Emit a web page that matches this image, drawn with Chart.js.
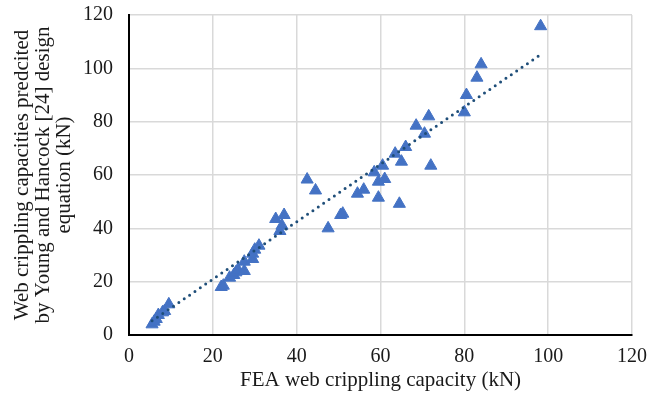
<!DOCTYPE html>
<html>
<head>
<meta charset="utf-8">
<script src="https://cdn.jsdelivr.net/npm/chart.js@4/dist/chart.umd.min.js"></script>
<style>
  html, body { margin: 0; padding: 0; background: #fff; }
</style>
</head>
<body>
<canvas id="chart" width="667" height="399"></canvas>
<script>
// FEA capacity (x) vs. predicted capacity (y), kN
var feaValues = [5.5, 6, 6.5, 7, 8, 8.5, 9.5, 22, 22.5, 24, 25, 25.5, 26, 27.5, 27.5, 29.5, 29.5, 30, 31,
    35, 36, 36.5, 37, 42.5, 44.5, 47.5, 50.5, 51, 54.5, 56, 58.5, 59.5, 59.5, 60.5, 61, 63.5, 64.5, 65, 66,
    68.5, 70.5, 71.5, 72, 80, 80.5, 83, 84, 98.2];
var predictedValues = [4, 5, 6, 7.5, 8.5, 9, 11.5, 18, 18.5, 21.5, 22.5, 23.5, 24.5, 24, 27.5, 28.5, 30.5, 32, 33.5,
    43.5, 39, 41, 45, 58.3, 54.2, 40, 45, 45.5, 53, 54.5, 61, 51.5, 57.5, 63.5, 58.5, 68, 49.2, 65, 70.5,
    78.5, 75.5, 82, 63.5, 83.5, 90, 96.5, 101.5, 115.8];

// linear trendline end points
var trendX = [5.5, 98.8];
var trendY = [5.3, 105.8];

var serif = "'Liberation Serif', 'Times New Roman', serif";
var tickFont = { family: serif, size: 20 };
var titleFont = { family: serif, size: 21, lineHeight: 1.0 };

var points = feaValues.map(function (v, i) { return { x: v, y: predictedValues[i] }; });
var trend = trendX.map(function (v, i) { return { x: v, y: trendY[i] }; });

var ctx = document.getElementById('chart').getContext('2d');
var chart = new Chart(ctx, {
    type: 'scatter',
    data: {
        datasets: [{
            type: 'line',
            data: trend,
            order: 0,
            borderColor: '#1f4e79',
            borderWidth: 3,
            borderDash: [0, 6.5],
            borderCapStyle: 'round',
            pointRadius: 0,
            fill: false
        }, {
            data: points,
            order: 1,
            pointStyle: 'triangle',
            pointRadius: 7,
            pointHoverRadius: 7,
            backgroundColor: '#4472c4',
            borderColor: '#4472c4',
            borderWidth: 1
        }]
    },
    options: {
        responsive: false,
        animation: false,
        layout: { padding: { top: 15, right: 35, left: 0, bottom: 0 } },
        plugins: { legend: { display: false }, tooltip: { enabled: false } },
        scales: {
            x: {
                type: 'linear',
                min: 0,
                max: 120,
                ticks: { stepSize: 20, font: tickFont, color: '#1a1a1a', padding: 10 },
                grid: { color: '#d9d9d9', lineWidth: 1.5, drawTicks: false },
                border: { color: '#000', width: 2 },
                title: { display: true, text: 'FEA web crippling capacity (kN)', font: titleFont, color: '#1a1a1a', padding: { top: 0, bottom: 8 } },
                afterFit: function (scale) { scale.height = 64; }
            },
            y: {
                min: 0,
                max: 120,
                ticks: { stepSize: 20, font: tickFont, color: '#1a1a1a', padding: 16 },
                grid: { color: '#d9d9d9', lineWidth: 1.5, drawTicks: false },
                border: { color: '#000', width: 2 },
                title: {
                    display: true,
                    text: ['Web crippling capacities predcited', 'by Young and Hancock [24] design', 'equation (kN)'],
                    font: titleFont,
                    color: '#1a1a1a',
                    padding: { top: 12, bottom: 0 }
                },
                afterFit: function (scale) {
                    scale.width = 129;
                    scale.paddingTop = 0;
                    scale.paddingBottom = 0;
                }
            }
        }
    }
});
</script>
</body>
</html>
